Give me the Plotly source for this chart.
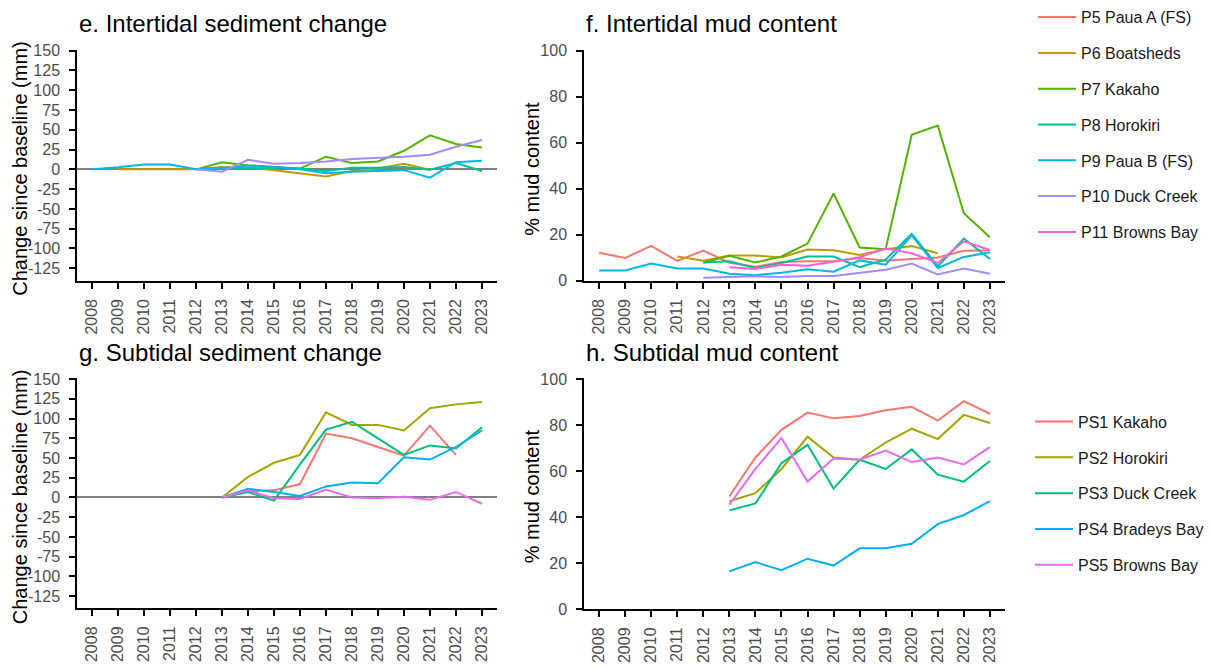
import plotly.graph_objects as go

W, H = 1211, 668
FONT = "Liberation Sans"

years = list(range(2008, 2024))
year_labels = [str(y) for y in years]

# Intertidal sites
inter_sites = ["P5 Paua A (FS)", "P6 Boatsheds", "P7 Kakaho", "P8 Horokiri",
               "P9 Paua B (FS)", "P10 Duck Creek", "P11 Browns Bay"]
inter_colors = ["#F8766D", "#C49A00", "#53B400", "#00C094",
                "#00B6EB", "#A58AFF", "#FB61D7"]

# e. Intertidal sediment change since baseline (mm)
sed_p5 = [None] * 16
sed_p6 = [None, 0, 0, 0, 0, 3, 2, -1, -5, -9, -2, 1, 7, -0.5, None, None]
sed_p7 = [None, None, None, None, 0, 9, 5, 3, 1, 16, 8, 10, 23.5, 43, 32, 27.5]
sed_p8 = [None, None, None, None, 0, 2, 1, 2, 1, -2, 2, 2, 3, -0.5, 8, -2]
sed_p9 = [0, 2.5, 6, 6, 0, 1, 5, 3, 0, -5, -3, -2, -1, -10.5, 9, 11]
sed_p10 = [None, None, None, None, 0, -3, 12, 7, 8, 10, 13, 14.5, 16, 18.5, 28.5, 37]
sed_p11 = [None] * 16

# f. Intertidal mud content (%)
mud_p5 = [12.2, 10, 15.2, 8.7, 13.2, 7.9, 6.1, 8.2, 8.5, 8.5, 9.9, 8.8, 9.5, 10.2, 13.1, 13.3]
mud_p6 = [None, None, None, 10.6, 8.8, 11, 11, 10.2, 13.6, 13.3, 11.3, 13.8, 15.1, 12, None, None]
mud_p7 = [None, None, None, None, 8, 10.9, 8, 10.6, 16.2, 38, 14.5, 13.8, 63.5, 67.5, 29.4, 19]
mud_p8 = [None, None, None, None, 8, 8.5, 5.6, 7.8, 10.6, 10.6, 6, 9.2, 20.5, 6.3, 18.4, 9.5]
mud_p9 = [4.5, 4.5, 7.5, 5.4, 5.4, 3.1, 2.5, 3.5, 5, 4, 8.9, 7, 19.8, 5.6, 10.4, 12.4]
mud_p10 = [None, None, None, None, 1.4, 1.7, 2, 1.7, 2.1, 2.1, 3.3, 4.8, 7.5, 2.8, 5.4, 3.1]
mud_p11 = [None, None, None, None, None, 5.9, 5.2, 7, 6.6, 8.3, 10.3, 14.1, 12, 7.8, 17.2, 13.4]

# Subtidal sites
sub_sites = ["PS1 Kakaho", "PS2 Horokiri", "PS3 Duck Creek", "PS4 Bradeys Bay", "PS5 Browns Bay"]
sub_colors = ["#F8766D", "#A3A500", "#00BF7D", "#00B0F6", "#E76BF3"]

# g. Subtidal sediment change since baseline (mm)
ssed_ps1 = [None] * 5 + [0, 8, 9, 17, 81, 75, 64, 53, 91, 54, None]
ssed_ps2 = [None] * 5 + [0, 26, 44, 54, 108, 92, 92, 85, 113, 118, 121]
ssed_ps3 = [None] * 5 + [0, 7, -4, 42, 86, 96, 75, 54, 66, 62, 89]
ssed_ps4 = [None] * 5 + [0, 11, 7, 2, 14, 19, 18, 51, 48, 64, 85]
ssed_ps5 = [None] * 5 + [0, 9, -1, -2, 10, 0, -1, 1, -3, 7, -8]

# h. Subtidal mud content (%)
smud_ps1 = [None] * 5 + [49, 66, 78, 85.5, 83, 84, 86.5, 88, 82, 90.5, 85]
smud_ps2 = [None] * 5 + [47, 50.5, 61, 75, 66, 65, 72.5, 78.5, 74, 84.5, 81]
smud_ps3 = [None] * 5 + [43, 46, 63.5, 71.5, 52.5, 65, 61, 69.5, 58.5, 55.5, 64.5]
smud_ps4 = [None] * 5 + [16.5, 20.5, 17, 22, 19, 26.5, 26.5, 28.5, 37, 41, 47]
smud_ps5 = [None] * 5 + [45.5, 61, 74.5, 55.5, 65.5, 65, 69, 64, 66, 63, 70.5]

inter_sed = [sed_p5, sed_p6, sed_p7, sed_p8, sed_p9, sed_p10, sed_p11]
inter_mud = [mud_p5, mud_p6, mud_p7, mud_p8, mud_p9, mud_p10, mud_p11]
sub_sed = [ssed_ps1, ssed_ps2, ssed_ps3, ssed_ps4, ssed_ps5]
sub_mud = [smud_ps1, smud_ps2, smud_ps3, smud_ps4, smud_ps5]

fig = go.Figure()

def add_lines(series_list, names, colors, xa, ya, legend=None, show=False):
    for vals, name, col in zip(series_list, names, colors):
        if all(v is None for v in vals):
            continue
        fig.add_trace(go.Scatter(
            x=years, y=vals, mode="lines", name=name,
            line=dict(color=col, width=2),
            xaxis=xa, yaxis=ya, showlegend=show,
            legend=legend or "legend", legendgroup=name,
            connectgaps=False,
        ))

add_lines(inter_sed, inter_sites, inter_colors, "x", "y")
add_lines(inter_mud, inter_sites, inter_colors, "x2", "y2", "legend", True)
add_lines(sub_sed, sub_sites, sub_colors, "x3", "y3")
add_lines(sub_mud, sub_sites, sub_colors, "x4", "y4", "legend2", True)


def xdom(left, right):
    return [left / W, right / W]


def ydom(top, bottom):
    return [1 - bottom / H, 1 - top / H]


tick_font = dict(family=FONT, size=16, color="#4D4D4D")

def x_axis(dom, anchor):
    return dict(
        domain=dom, anchor=anchor, range=[2007.42, 2023.58],
        tickmode="array", tickvals=years, ticktext=year_labels,
        tickangle=-90, ticks="outside", ticklen=6, tickwidth=1.5, tickcolor="black",
        showline=True, linecolor="black", linewidth=1.5,
        showgrid=False, zeroline=False, tickfont=tick_font,
        ticklabelstandoff=4,
    )

def y_axis(dom, anchor, rng, tickvals, zero):
    return dict(
        domain=dom, anchor=anchor, range=rng,
        tickmode="array", tickvals=tickvals,
        ticktext=[str(v) for v in tickvals],
        ticks="outside", ticklen=6, tickwidth=1.5, tickcolor="black",
        showline=True, linecolor="black", linewidth=1.5,
        showgrid=False, tickfont=tick_font,
        zeroline=zero, zerolinecolor="#7F7F7F", zerolinewidth=2,
        ticklabelstandoff=6,
    )

sed_ticks = list(range(-125, 151, 25))
mud_ticks = [0, 20, 40, 60, 80, 100]

legend_style = dict(
    xanchor="left", yanchor="top",
    font=dict(family=FONT, size=16, color="#1A1A1A"),
    traceorder="grouped", tracegroupgap=12, bgcolor="rgba(0,0,0,0)",
    itemwidth=38,
)

fig.update_layout(
    width=W, height=H,
    margin=dict(l=0, r=0, t=0, b=0),
    paper_bgcolor="white", plot_bgcolor="white",
    font=dict(family=FONT, color="black"),
    xaxis=x_axis(xdom(77, 497), "y"),
    yaxis=y_axis(ydom(43, 280), "x", [-141, 151], sed_ticks, True),
    xaxis2=x_axis(xdom(584, 1005), "y2"),
    yaxis2=y_axis(ydom(43, 280), "x2", [0, 100.4], mud_ticks, False),
    xaxis3=x_axis(xdom(77, 497), "y3"),
    yaxis3=y_axis(ydom(380, 616), "x3", [-140.5, 151], sed_ticks, True),
    xaxis4=x_axis(xdom(584, 1005), "y4"),
    yaxis4=y_axis(ydom(380, 617), "x4", [0, 100.4], mud_ticks, False),
    legend=dict(x=1033 / W, y=1 + 8 / H, **legend_style),
    legend2=dict(x=1030 / W, y=1 - 407 / H, **legend_style),
    showlegend=True,
)

panel_titles = [
    ("e. Intertidal sediment change", 77, 16),
    ("f. Intertidal mud content", 584, 16),
    ("g. Subtidal sediment change", 77, 353),
    ("h. Subtidal mud content", 584, 353),
]
for text, px, py in panel_titles:
    fig.add_annotation(
        text=text, xref="paper", yref="paper",
        x=px / W, y=1 - py / H, xanchor="left", yanchor="middle",
        showarrow=False, font=dict(family=FONT, size=24, color="black"),
    )

# Vertical axis titles
axis_titles = [
    ("Change since baseline (mm)", 20, 165),
    ("% mud content", 532, 165),
    ("Change since baseline (mm)", 20, 502),
    ("% mud content", 532, 501),
]
for text, px, py in axis_titles:
    fig.add_annotation(
        text=text, xref="paper", yref="paper",
        x=px / W, y=1 - py / H, xanchor="center", yanchor="middle",
        textangle=-90, showarrow=False,
        font=dict(family=FONT, size=20, color="black"),
    )

fig.write_html("out.html")
